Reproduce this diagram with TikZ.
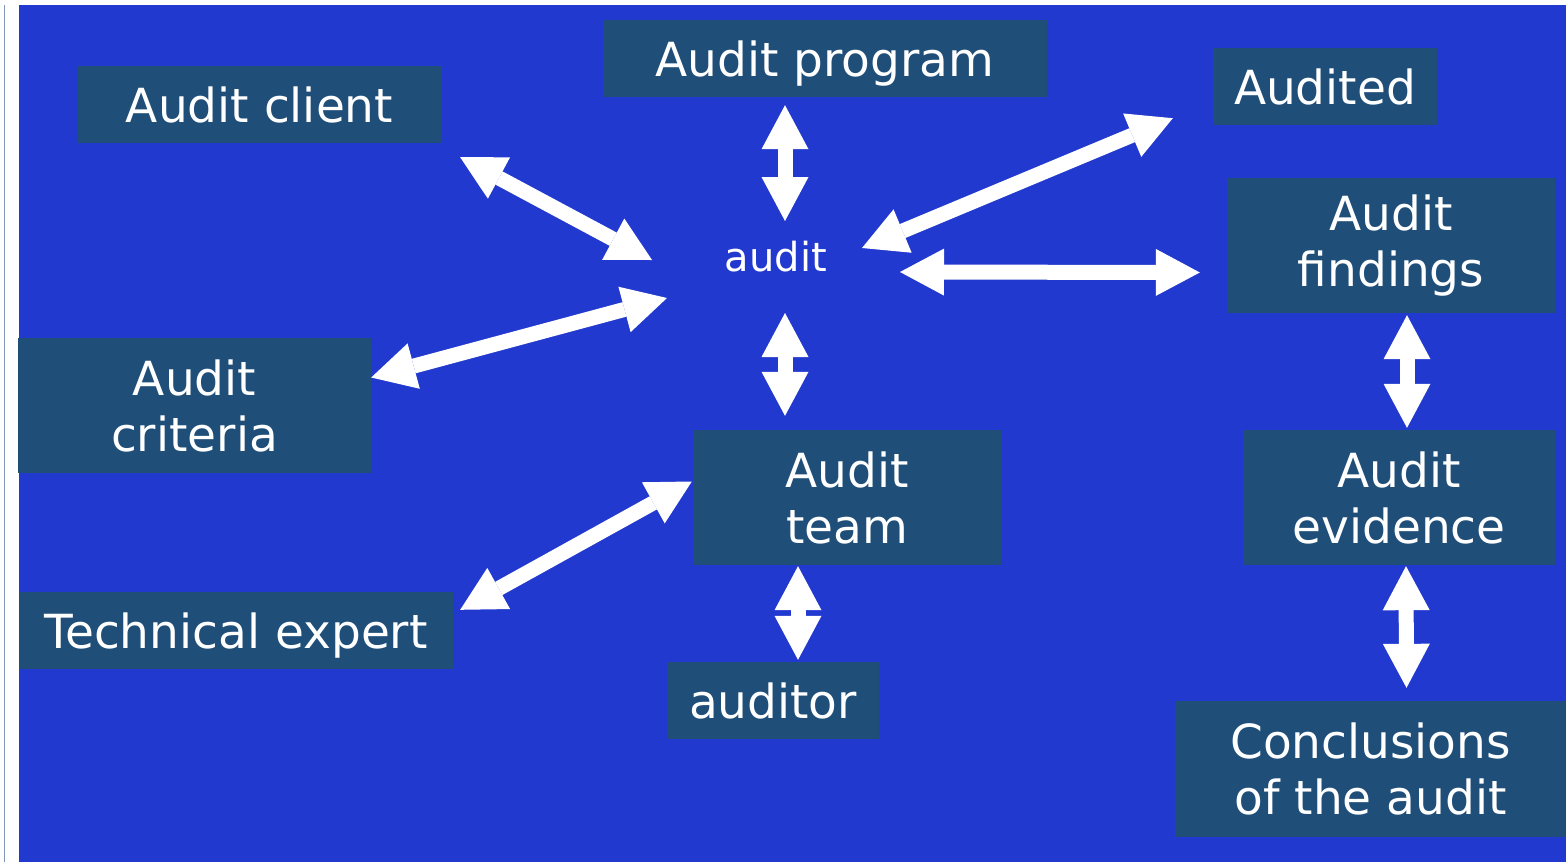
\documentclass[tikz,border=0pt]{standalone}
\usepackage{fontspec}
\setmainfont{DejaVu Sans}
\usepackage{xcolor}
\usepackage{tikz}
\usetikzlibrary{arrows.meta,calc}
\definecolor{slideblue}{RGB}{33,57,206}
\definecolor{boxblue}{RGB}{31,78,121}
\definecolor{edgegray}{RGB}{130,150,185}
\tikzset{
  box/.style={fill=boxblue,text=white,align=center,inner sep=0pt,
    font=\fontsize{47}{56}\selectfont},
  onebox/.style={box,text height=46pt,text depth=10pt,minimum height=77pt},
  twobox/.style={box,minimum height=135pt},
  dbl/.style={white,line width=15pt,
    {Triangle[width=47pt,length=44pt,line width=0pt]}-{Triangle[width=47pt,length=44pt,line width=0pt]}}
}
\begin{document}
\begin{tikzpicture}[x=1pt,y=-1pt]
% Drawing the slide
\fill[white] (0,0) rectangle (1566,862);
\useasboundingbox (0,0) rectangle (1566,862);
\draw[edgegray,line width=1.2pt] (4.5,5) -- (4.5,862);
\fill[slideblue] (19,5) rectangle (1566,862);
% Boxes
\node[onebox,minimum width=363pt] (client) at (259.5,104.5) {Audit client};
\node[onebox,minimum width=444pt] (program) at (825,58.5) {Audit program};
\node[onebox,minimum width=224pt] (audited) at (1325,86.5) {Audited};
\node[twobox,minimum width=328pt] (findings) at (1391,245.5) {Audit\\findings};
\node[text=white,inner sep=0pt,font=\fontsize{40}{48}\selectfont] (audit) at (776,257) {audit};
\node[twobox,minimum width=353pt] (criteria) at (194.5,405.5) {Audit\\criteria};
\node[twobox,minimum width=308pt] (team) at (847,497.5) {Audit\\team};
\node[twobox,minimum width=312pt] (evidence) at (1399,497.5) {Audit\\evidence};
\node[onebox,minimum width=434pt] (technical) at (236,630.5) {Technical expert};
\node[onebox,minimum width=212pt] (auditor) at (773,700.5) {auditor};
\node[twobox,minimum width=391pt,minimum height=136pt] (conclusions) at (1370.5,769) {Conclusions\\of the audit};
% Arrows
\draw[dbl] ($(client.south east)+(19,14)$) -- ($(audit)+(-124,3)$);
\draw[dbl] ($(program.south)+(-40,8)$) -- ($(audit)+(9,-36)$);
\draw[dbl] ($(audited.south west)+(-40,-7)$) -- ($(audit)+(86,-9)$);
\draw[dbl] ($(audit)+(124,15)$) -- ($(findings.west)+(-27,27)$);
\draw[dbl] ($(criteria.east)+(0,-28)$) -- ($(audit)+(-109,41)$);
\draw[dbl] ($(audit)+(9,56)$) -- ($(team.north)+(-62,-14)$);
\draw[dbl] ($(team.west)+(-1,-16)$) -- ($(technical.north east)+(7,18)$);
\draw[dbl] ($(team.south)+(-49,1)$) -- ($(auditor.north)+(25,-2)$);
\draw[dbl] ($(findings.south)+(16,2)$) -- ($(evidence.north)+(8,-2)$);
\draw[dbl] ($(evidence.south)+(7,1)$) -- ($(conclusions.north)+(36,-13)$);
\end{tikzpicture}
\end{document}
